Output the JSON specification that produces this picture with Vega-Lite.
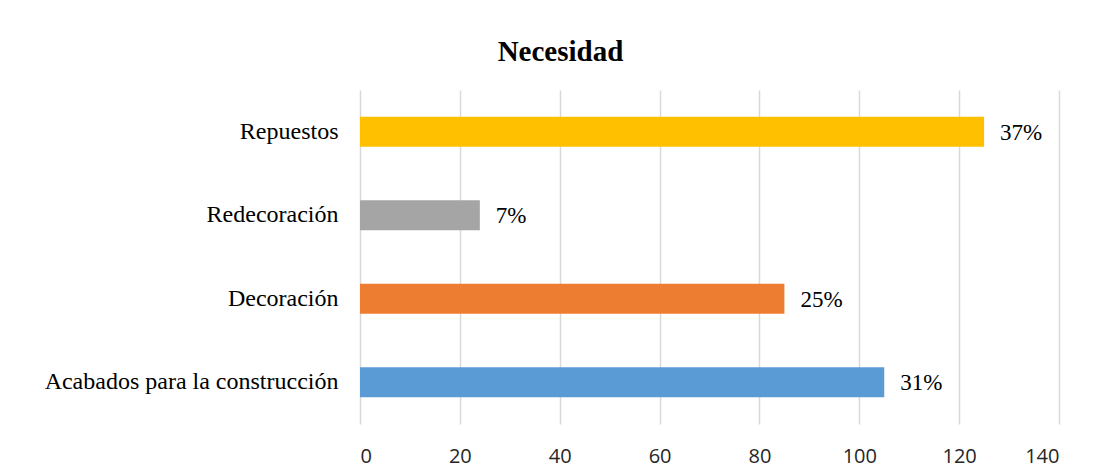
{
  "$schema": "https://vega.github.io/schema/vega-lite/v6.json",
  "autosize": "none",
  "width": 699,
  "height": 334,
  "padding": {"left": 360, "top": 90, "right": 40, "bottom": 47},
  "background": "white",
  "title": {
    "text": "Necesidad",
    "font": "Liberation Serif",
    "fontSize": 29,
    "fontWeight": "bold",
    "color": "#000000",
    "anchor": "middle",
    "baseline": "alphabetic",
    "dx": -149,
    "offset": 0
  },
  "data": {
    "values": [
      {"categoria": "Repuestos", "cantidad": 125, "porcentaje": "37%"},
      {"categoria": "Redecoración", "cantidad": 24, "porcentaje": "7%"},
      {"categoria": "Decoración", "cantidad": 85, "porcentaje": "25%"},
      {"categoria": "Acabados para la construcción", "cantidad": 105, "porcentaje": "31%"}
    ]
  },
  "encoding": {
    "y": {
      "field": "categoria",
      "type": "nominal",
      "sort": null,
      "scale": {"paddingInner": 0.64, "paddingOuter": 0.32},
      "axis": {
        "title": null,
        "domain": false,
        "ticks": false,
        "grid": false,
        "labelFont": "Liberation Serif",
        "labelFontSize": 24,
        "labelColor": "#000000",
        "labelPadding": 22,
        "labelLimit": 400,
        "labelExpr": "datum.label === 'Redecoración' ? 'Redecoración\u2002' : datum.label"
      }
    },
    "x": {
      "field": "cantidad",
      "type": "quantitative",
      "scale": {"domain": [0, 140], "nice": false},
      "axis": {
        "title": null,
        "values": [0, 20, 40, 60, 80, 100, 120, 140],
        "domain": false,
        "ticks": false,
        "grid": true,
        "gridColor": "#d9d9d9",
        "gridWidth": 1.5,
        "labelFont": "Open Sans",
        "labelFontSize": 20,
        "labelColor": "#262626",
        "labelPadding": 22
      }
    }
  },
  "layer": [
    {
      "mark": {"type": "bar"},
      "encoding": {
        "color": {
          "field": "categoria",
          "type": "nominal",
          "legend": null,
          "scale": {
            "domain": ["Repuestos", "Redecoración", "Decoración", "Acabados para la construcción"],
            "range": ["#ffc000", "#a5a5a5", "#ed7d31", "#5b9bd5"]
          }
        }
      }
    },
    {
      "mark": {
        "type": "text",
        "align": "left",
        "baseline": "middle",
        "dx": 16,
        "dy": 1,
        "font": "Liberation Serif",
        "fontSize": 23,
        "color": "#000000"
      },
      "encoding": {
        "text": {"field": "porcentaje"}
      }
    }
  ],
  "config": {
    "view": {"stroke": null}
  }
}
